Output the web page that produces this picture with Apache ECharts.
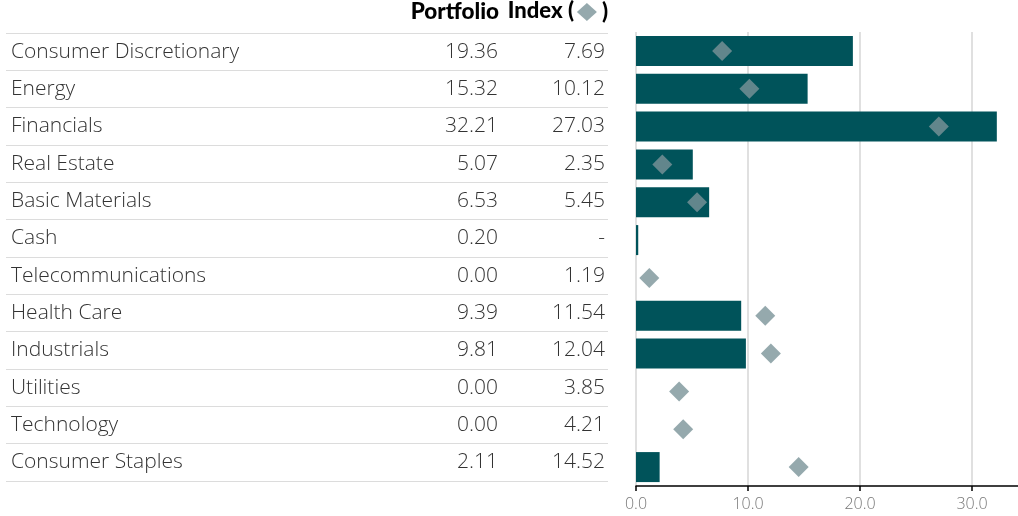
<!DOCTYPE html>
<html><head><meta charset="utf-8">
<script src="https://cdn.jsdelivr.net/npm/echarts@6/dist/echarts.min.js"></script>
<style>html,body{margin:0;padding:0;background:#fff}#c{width:1018px;height:516px}</style>
</head><body><div id="c"></div>
<script>
const categories = ["Consumer Discretionary","Energy","Financials","Real Estate","Basic Materials","Cash","Telecommunications","Health Care","Industrials","Utilities","Technology","Consumer Staples"];
const portfolio = [19.36,15.32,32.21,5.07,6.53,0.20,0.00,9.39,9.81,0.00,0.00,2.11];
const indexVals = [7.69,10.12,27.03,2.35,5.45,null,1.19,11.54,12.04,3.85,4.21,14.52];
const xTicks = [0,10,20,30];

const FONT = 'Open Sans';
const HFONT = 'Lato';
const fmt = v => (v === null || v === undefined) ? '-' : v.toFixed(2);

const chart = echarts.init(document.getElementById('c'), null, {renderer:'canvas'});
chart.setOption({
  animation:false,
  textStyle:{fontFamily:FONT},
  title:[
    {text:'Portfolio', right:519, top:0, padding:0, textStyle:{fontFamily:HFONT, fontWeight:900, fontSize:22.5, color:'#000'}},
    {text:'Index (', right:444, top:0, padding:0, textStyle:{fontFamily:HFONT, fontWeight:900, fontSize:22, color:'#000'}}
  ],
  legend:{data:['Index'], right:410, top:1, padding:0, icon:'diamond', itemWidth:20, itemHeight:18, formatter:()=>')', textStyle:{fontFamily:HFONT, fontWeight:900, fontSize:22, color:'#000'}, selectedMode:false},
  grid:[
    {left:6, top:33, width:602, height:448},
    {left:636, right:0, top:32, bottom:30}
  ],
  xAxis:[
    {gridIndex:0, type:'value', show:false},
    {gridIndex:1, type:'value', min:0, max:34.1, interval:10,
     axisLine:{show:true, lineStyle:{color:'#000', width:1.5}},
     axisTick:{show:true, length:5, customValues:xTicks, lineStyle:{color:'#000', width:1.5}},
     axisLabel:{color:'#777', fontSize:16, margin:10, fontFamily:FONT, fontWeight:300, customValues:xTicks, formatter:v=> v.toFixed(1)},
     splitLine:{show:true, lineStyle:{color:'#e0e0e0', width:2}}}
  ],
  yAxis:[
    {gridIndex:0, type:'category', inverse:true, data:categories,
     axisLine:{show:false}, axisTick:{show:false},
     splitLine:{show:true, lineStyle:{color:'#dcdcdc', width:1}},
     axisLabel:{inside:true, margin:5, align:'left', color:'#333', fontSize:21, fontWeight:300, fontFamily:FONT, padding:[0,0,4,0]}},
    {gridIndex:0, type:'category', inverse:true, data:categories, position:'left', offset:-492,
     axisLine:{show:false}, axisTick:{show:false}, splitLine:{show:false},
     axisLabel:{margin:0, align:'right', color:'#333', fontSize:21, fontWeight:300, fontFamily:FONT, padding:[0,0,2,0], formatter:(v,i)=>fmt(portfolio[i])}},
    {gridIndex:0, type:'category', inverse:true, data:categories, position:'right',
     axisLine:{show:false}, axisTick:{show:false}, splitLine:{show:false},
     axisLabel:{inside:true, margin:3, align:'right', color:'#333', fontSize:21, fontWeight:300, fontFamily:FONT, padding:[0,0,2,0], formatter:(v,i)=>fmt(indexVals[i])}},
    {gridIndex:1, type:'category', inverse:true, data:categories, show:false}
  ],
  series:[
    {name:'Portfolio', type:'bar', xAxisIndex:1, yAxisIndex:3, data:portfolio, barWidth:30, itemStyle:{color:'#00535a'}, silent:true},
    {name:'Index', type:'scatter', xAxisIndex:1, yAxisIndex:3, data:indexVals, symbol:'diamond', symbolSize:20, itemStyle:{color:'#7a9398'}, silent:true, z:5}
  ]
});
</script></body></html>
